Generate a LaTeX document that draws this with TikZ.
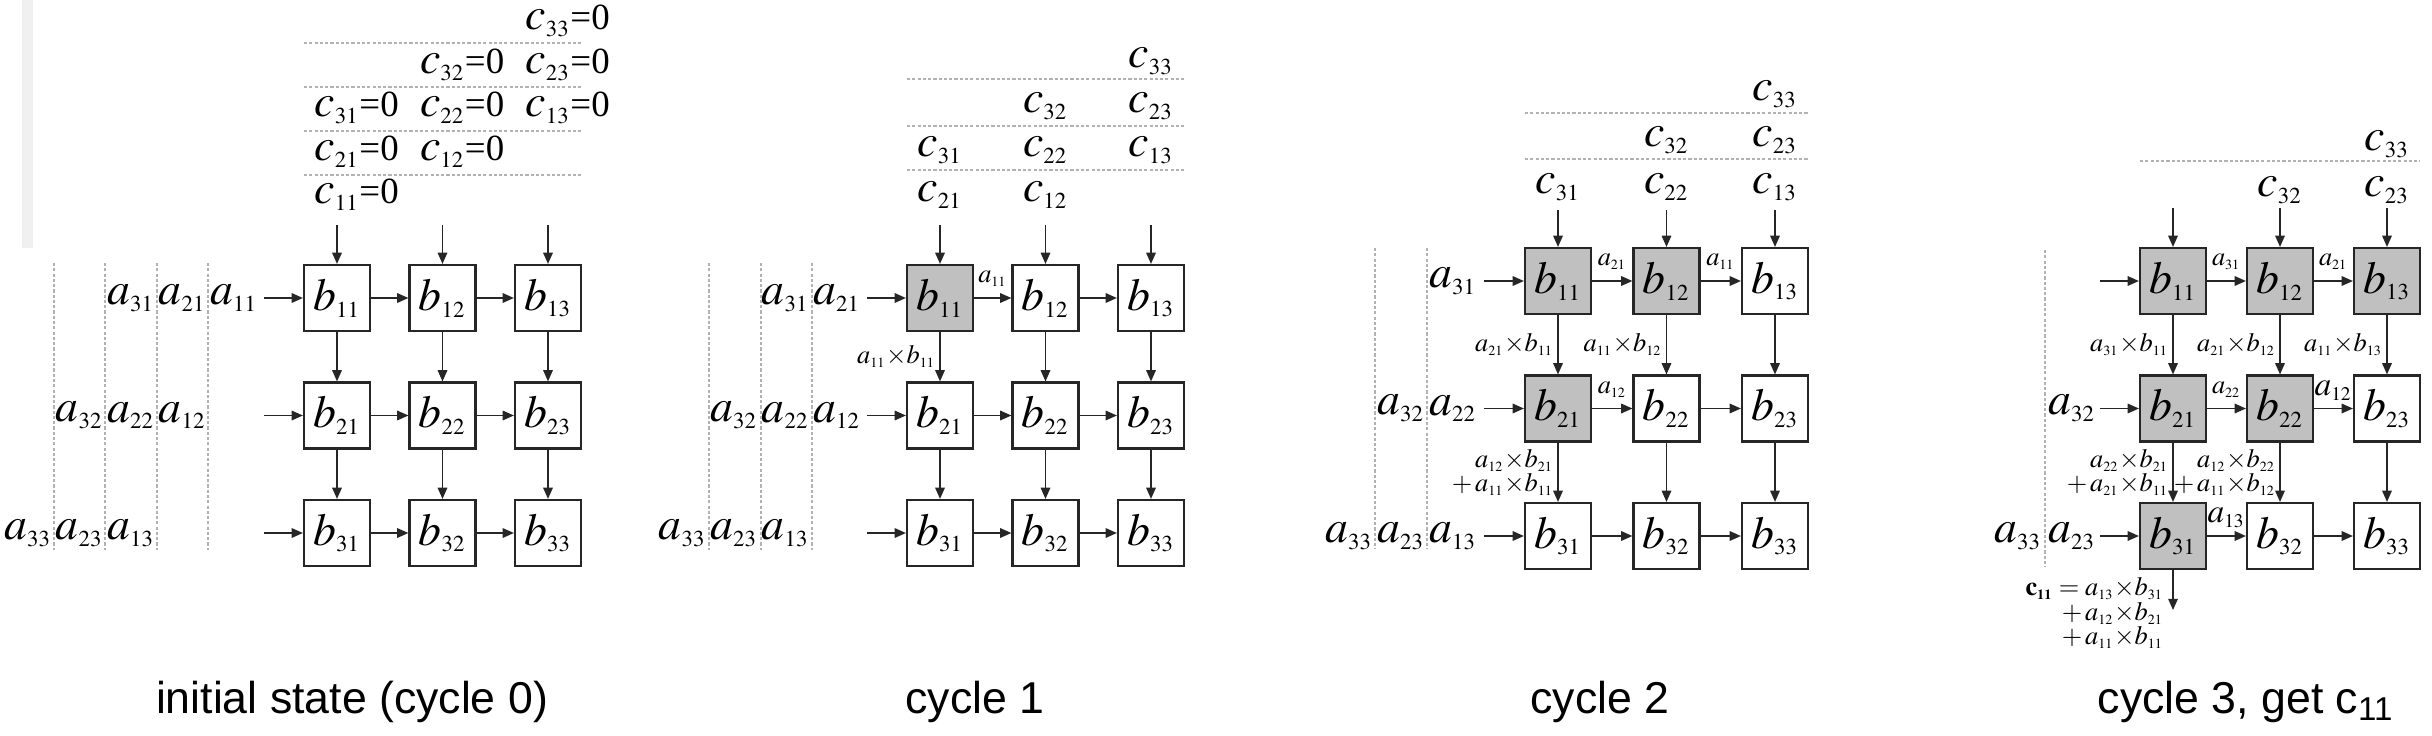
\documentclass[tikz,border=0pt]{standalone}
\usepackage{mathptmx}
\usepackage{fontspec}
\setmainfont{Liberation Serif}
\newfontfamily\capfont{Liberation Sans}
\usetikzlibrary{positioning, calc, arrows.meta}
\DeclareMathSizes{13}{13}{6.5}{5}
\DeclareMathSizes{7.5}{7.5}{4}{3}
\DeclareMathSizes{9.5}{9.5}{5.5}{4}
\definecolor{cellgray}{RGB}{192,192,192}
\newcommand{\zero}{\rlap{\fontsize{10.5}{12}\selectfont =0}}
\tikzset{
  cell/.style={rectangle, draw=black!85, line width=.6pt, fill=white, minimum size=.66cm, inner sep=0pt, font=\fontsize{13}{15}\selectfont},
  busy/.style={cell, fill=cellgray},
  sym/.style={inner sep=.5pt, font=\fontsize{13}{15}\selectfont},
  lbl/.style={inner sep=1pt, font=\fontsize{7.5}{7}\selectfont},
  midlbl/.style={inner sep=1pt, font=\fontsize{9.5}{11}\selectfont},
  feed/.style={every edge/.append style={draw=black!85, line width=.45pt, -{Triangle[length=3.2pt,width=2.7pt]}}},
  guide/.style={draw=black!30, line width=.6pt, dash pattern=on .9pt off .6pt},
  captext/.style={font=\capfont\fontsize{12.7}{15}\selectfont, anchor=base}
}

\begin{document}
\begin{tikzpicture}
  \useasboundingbox (0,0) rectangle (24.32,-7.36);
  \fill[black!6] (.22,0) rectangle (.33,-2.48);

  % initial state (cycle 0)
  \node[cell] (A11) at (3.37,-2.98) {$b_{11}$};
  \node[cell, right of=A11, xshift=.055cm] (A12) {$b_{12}$};
  \node[cell, right of=A12, xshift=.055cm] (A13) {$b_{13}$};
  \node[cell, below of=A11, yshift=-.175cm] (A21) {$b_{21}$};
  \node[cell, right of=A21, xshift=.055cm] (A22) {$b_{22}$};
  \node[cell, right of=A22, xshift=.055cm] (A23) {$b_{23}$};
  \node[cell, below of=A21, yshift=-.175cm] (A31) {$b_{31}$};
  \node[cell, right of=A31, xshift=.055cm] (A32) {$b_{32}$};
  \node[cell, right of=A32, xshift=.055cm] (A33) {$b_{33}$};

  \node[sym, above of=A11, yshift=.03cm] (Ac11) {$c_{11}$\zero};
  \node[sym, above of=Ac11, yshift=-.565cm] (Ac21) {$c_{21}$\zero};
  \node[sym, above of=Ac21, yshift=-.565cm] (Ac31) {$c_{31}$\zero};
  \node[sym, right of=Ac21, xshift=.055cm] (Ac12) {$c_{12}$\zero};
  \node[sym, above of=Ac12, yshift=-.565cm] (Ac22) {$c_{22}$\zero};
  \node[sym, above of=Ac22, yshift=-.565cm] (Ac32) {$c_{32}$\zero};
  \node[sym, right of=Ac22, xshift=.055cm] (Ac13) {$c_{13}$\zero};
  \node[sym, above of=Ac13, yshift=-.565cm] (Ac23) {$c_{23}$\zero};
  \node[sym, above of=Ac23, yshift=-.565cm] (Ac33) {$c_{33}$\zero};

  \node[sym, left of=A11, xshift=-.03cm] (Aa11) {$a_{11}$};
  \node[sym, left of=Aa11, xshift=.485cm] (Aa21) {$a_{21}$};
  \node[sym, left of=Aa21, xshift=.485cm] (Aa31) {$a_{31}$};
  \node[sym, left of=A21, xshift=-.545cm] (Aa12) {$a_{12}$};
  \node[sym, left of=Aa12, xshift=.485cm] (Aa22) {$a_{22}$};
  \node[sym, left of=Aa22, xshift=.485cm] (Aa32) {$a_{32}$};
  \node[sym, left of=A31, xshift=-1.06cm] (Aa13) {$a_{13}$};
  \node[sym, left of=Aa13, xshift=.485cm] (Aa23) {$a_{23}$};
  \node[sym, left of=Aa23, xshift=.485cm] (Aa33) {$a_{33}$};

  \coordinate[above of=A11, yshift=-.27cm] (A01);
  \coordinate[above of=A12, yshift=-.27cm] (A02);
  \coordinate[above of=A13, yshift=-.27cm] (A03);
  \coordinate[left of=A11, xshift=.27cm] (A10);
  \coordinate[left of=A21, xshift=.27cm] (A20);
  \coordinate[left of=A31, xshift=.27cm] (A30);

  \draw[guide] (3.04,-1.75) -- (5.81,-1.75) (3.04,-1.31) -- (5.81,-1.31)
    (3.04,-.87) -- (5.81,-.87) (3.04,-.43) -- (5.81,-.43);
  \draw[guide] (2.08,-2.63) -- (2.08,-5.50) (1.57,-2.63) -- (1.57,-5.50)
    (1.05,-2.63) -- (1.05,-5.50) (.54,-2.63) -- (.54,-5.50);

  \path[feed]
    (A01) edge (A11) (A02) edge (A12) (A03) edge (A13)
    (A10) edge (A11) (A20) edge (A21) (A30) edge (A31)
    (A11) edge (A12) (A12) edge (A13)
    (A21) edge (A22) (A22) edge (A23)
    (A31) edge (A32) (A32) edge (A33)
    (A11) edge (A21) (A21) edge (A31)
    (A12) edge (A22) (A22) edge (A32)
    (A13) edge (A23) (A23) edge (A33);

  % cycle 1
  \node[busy] (B11) at (9.40,-2.98) {$b_{11}$};
  \node[cell, right of=B11, xshift=.055cm] (B12) {$b_{12}$};
  \node[cell, right of=B12, xshift=.055cm] (B13) {$b_{13}$};
  \node[cell, below of=B11, yshift=-.175cm] (B21) {$b_{21}$};
  \node[cell, right of=B21, xshift=.055cm] (B22) {$b_{22}$};
  \node[cell, right of=B22, xshift=.055cm] (B23) {$b_{23}$};
  \node[cell, below of=B21, yshift=-.175cm] (B31) {$b_{31}$};
  \node[cell, right of=B31, xshift=.055cm] (B32) {$b_{32}$};
  \node[cell, right of=B32, xshift=.055cm] (B33) {$b_{33}$};

  \node[sym, above of=B11, yshift=.03cm] (Bc21) {$c_{21}$};
  \node[sym, above of=Bc21, yshift=-.555cm] (Bc31) {$c_{31}$};
  \node[sym, right of=Bc21, xshift=.055cm] (Bc12) {$c_{12}$};
  \node[sym, above of=Bc12, yshift=-.555cm] (Bc22) {$c_{22}$};
  \node[sym, above of=Bc22, yshift=-.555cm] (Bc32) {$c_{32}$};
  \node[sym, right of=Bc22, xshift=.055cm] (Bc13) {$c_{13}$};
  \node[sym, above of=Bc13, yshift=-.555cm] (Bc23) {$c_{23}$};
  \node[sym, above of=Bc23, yshift=-.555cm] (Bc33) {$c_{33}$};

  \node[sym, left of=B11, xshift=-.03cm] (Ba21) {$a_{21}$};
  \node[sym, left of=Ba21, xshift=.485cm] (Ba31) {$a_{31}$};
  \node[sym, left of=B21, xshift=-.03cm] (Ba12) {$a_{12}$};
  \node[sym, left of=Ba12, xshift=.485cm] (Ba22) {$a_{22}$};
  \node[sym, left of=Ba22, xshift=.485cm] (Ba32) {$a_{32}$};
  \node[sym, left of=B31, xshift=-.545cm] (Ba13) {$a_{13}$};
  \node[sym, left of=Ba13, xshift=.485cm] (Ba23) {$a_{23}$};
  \node[sym, left of=Ba23, xshift=.485cm] (Ba33) {$a_{33}$};

  \coordinate[above of=B11, yshift=-.27cm] (B01);
  \coordinate[above of=B12, yshift=-.27cm] (B02);
  \coordinate[above of=B13, yshift=-.27cm] (B03);
  \coordinate[left of=B11, xshift=.27cm] (B10);
  \coordinate[left of=B21, xshift=.27cm] (B20);
  \coordinate[left of=B31, xshift=.27cm] (B30);

  \draw[guide] (9.07,-1.70) -- (11.84,-1.70) (9.07,-1.26) -- (11.84,-1.26)
    (9.07,-.79) -- (11.84,-.79);
  \draw[guide] (8.12,-2.63) -- (8.12,-5.50) (7.61,-2.63) -- (7.61,-5.50)
    (7.09,-2.63) -- (7.09,-5.50);

  \path[feed]
    (B01) edge (B11) (B02) edge (B12) (B03) edge (B13)
    (B10) edge (B11) (B20) edge (B21) (B30) edge (B31)
    (B11) edge node[lbl, above=2pt] {$a_{11}$} (B12) (B12) edge (B13)
    (B21) edge (B22) (B22) edge (B23)
    (B31) edge (B32) (B32) edge (B33)
    (B11) edge node[lbl, left] {$a_{11}{\times}b_{11}$} (B21) (B21) edge (B31)
    (B12) edge (B22) (B22) edge (B32)
    (B13) edge (B23) (B23) edge (B33);

  % cycle 2
  \node[busy] (C11) at (15.58,-2.81) {$b_{11}$};
  \node[busy, right of=C11, xshift=.085cm] (C12) {$b_{12}$};
  \node[cell, right of=C12, xshift=.085cm] (C13) {$b_{13}$};
  \node[busy, below of=C11, yshift=-.275cm] (C21) {$b_{21}$};
  \node[cell, right of=C21, xshift=.085cm] (C22) {$b_{22}$};
  \node[cell, right of=C22, xshift=.085cm] (C23) {$b_{23}$};
  \node[cell, below of=C21, yshift=-.275cm] (C31) {$b_{31}$};
  \node[cell, right of=C31, xshift=.085cm] (C32) {$b_{32}$};
  \node[cell, right of=C32, xshift=.085cm] (C33) {$b_{33}$};

  \node[sym, above of=C11, yshift=-.06cm] (Cc31) {$c_{31}$};
  \node[sym, right of=Cc31, xshift=.085cm] (Cc22) {$c_{22}$};
  \node[sym, above of=Cc22, yshift=-.535cm] (Cc32) {$c_{32}$};
  \node[sym, right of=Cc22, xshift=.085cm] (Cc13) {$c_{13}$};
  \node[sym, above of=Cc13, yshift=-.535cm] (Cc23) {$c_{23}$};
  \node[sym, above of=Cc23, yshift=-.535cm] (Cc33) {$c_{33}$};

  \node[sym, left of=C11, xshift=-.05cm] (Ca31) {$a_{31}$};
  \node[sym, left of=C21, xshift=-.05cm] (Ca22) {$a_{22}$};
  \node[sym, left of=Ca22, xshift=.48cm] (Ca32) {$a_{32}$};
  \node[sym, left of=C31, xshift=-.05cm] (Ca13) {$a_{13}$};
  \node[sym, left of=Ca13, xshift=.48cm] (Ca23) {$a_{23}$};
  \node[sym, left of=Ca23, xshift=.48cm] (Ca33) {$a_{33}$};

  \coordinate[above of=C11, yshift=-.29cm] (C01);
  \coordinate[above of=C12, yshift=-.29cm] (C02);
  \coordinate[above of=C13, yshift=-.29cm] (C03);
  \coordinate[left of=C11, xshift=.26cm] (C10);
  \coordinate[left of=C21, xshift=.26cm] (C20);
  \coordinate[left of=C31, xshift=.26cm] (C30);

  \draw[guide] (15.25,-1.59) -- (18.09,-1.59) (15.25,-1.13) -- (18.09,-1.13);
  \draw[guide] (14.27,-2.48) -- (14.27,-5.49) (13.75,-2.48) -- (13.75,-5.49);

  \path[feed]
    (C01) edge (C11) (C02) edge (C12) (C03) edge (C13)
    (C10) edge (C11) (C20) edge (C21) (C30) edge (C31)
    (C11) edge node[lbl, above=2pt] {$a_{21}$} (C12)
    (C12) edge node[lbl, above=2pt] {$a_{11}$} (C13)
    (C21) edge node[lbl, above=2pt] {$a_{12}$} (C22) (C22) edge (C23)
    (C31) edge (C32) (C32) edge (C33)
    (C11) edge node[lbl, left] {$a_{21}{\times}b_{11}$} (C21)
    (C21) edge node[lbl, left, align=right] {$a_{12}{\times}b_{21}$\\$+\,a_{11}{\times}b_{11}$} (C31)
    (C12) edge node[lbl, left] {$a_{11}{\times}b_{12}$} (C22) (C22) edge (C32)
    (C13) edge (C23) (C23) edge (C33);

  % cycle 3
  \node[busy] (D11) at (21.73,-2.81) {$b_{11}$};
  \node[busy, right of=D11, xshift=.07cm] (D12) {$b_{12}$};
  \node[busy, right of=D12, xshift=.07cm] (D13) {$b_{13}$};
  \node[busy, below of=D11, yshift=-.275cm] (D21) {$b_{21}$};
  \node[busy, right of=D21, xshift=.07cm] (D22) {$b_{22}$};
  \node[cell, right of=D22, xshift=.07cm] (D23) {$b_{23}$};
  \node[busy, below of=D21, yshift=-.275cm] (D31) {$b_{31}$};
  \node[cell, right of=D31, xshift=.07cm] (D32) {$b_{32}$};
  \node[cell, right of=D32, xshift=.07cm] (D33) {$b_{33}$};

  \node[sym, above of=D12, yshift=-.09cm] (Dc32) {$c_{32}$};
  \node[sym, right of=Dc32, xshift=.07cm] (Dc23) {$c_{23}$};
  \node[sym, above of=Dc23, yshift=-.54cm] (Dc33) {$c_{33}$};

  \node[sym, left of=D21, xshift=-.01cm] (Da32) {$a_{32}$};
  \node[sym, left of=D31, xshift=-.01cm] (Da23) {$a_{23}$};
  \node[sym, left of=Da23, xshift=.46cm] (Da33) {$a_{33}$};

  \coordinate[above of=D11, yshift=-.27cm] (D01);
  \coordinate[above of=D12, yshift=-.27cm] (D02);
  \coordinate[above of=D13, yshift=-.27cm] (D03);
  \coordinate[left of=D11, xshift=.27cm] (D10);
  \coordinate[left of=D21, xshift=.27cm] (D20);
  \coordinate[left of=D31, xshift=.27cm] (D30);
  \coordinate[below of=D31, yshift=.26cm] (D41);

  \draw[guide] (21.40,-1.61) -- (24.20,-1.61);
  \draw[guide] (20.45,-2.50) -- (20.45,-5.67);

  \path[feed]
    (D01) edge (D11) (D02) edge (D12) (D03) edge (D13)
    (D10) edge (D11) (D20) edge (D21) (D30) edge (D31)
    (D11) edge node[lbl, above=2pt] {$a_{31}$} (D12)
    (D12) edge node[lbl, above=2pt] {$a_{21}$} (D13)
    (D21) edge node[lbl, above=2pt] {$a_{22}$} (D22)
    (D22) edge node[midlbl, above=1pt] {$a_{12}$} (D23)
    (D31) edge node[midlbl, above=1pt] {$a_{13}$} (D32) (D32) edge (D33)
    (D11) edge node[lbl, left] {$a_{31}{\times}b_{11}$} (D21)
    (D12) edge node[lbl, left] {$a_{21}{\times}b_{12}$} (D22)
    (D13) edge node[lbl, left] {$a_{11}{\times}b_{13}$} (D23)
    (D21) edge node[lbl, left, align=right] {$a_{22}{\times}b_{21}$\\$+\,a_{21}{\times}b_{11}$} (D31)
    (D22) edge node[lbl, left, align=right] {$a_{12}{\times}b_{22}$\\$+\,a_{11}{\times}b_{12}$} (D32)
    (D23) edge (D33)
    (D31) edge node[lbl, pos=0, anchor=north east, align=right, xshift=-.5mm, yshift=-.3mm]
      {$\mathbf{c_{11}}=a_{13}{\times}b_{31}$\\$+\,a_{12}{\times}b_{21}$\\$+\,a_{11}{\times}b_{11}$} (D41);

  \node[captext] (capA) at (3.52,-7.13) {initial state (cycle 0)};
  \node[captext] (capB) at (9.75,-7.13) {cycle 1};
  \node[captext] (capC) at (16.00,-7.13) {cycle 2};
  \node[captext] (capD) at (22.46,-7.13) {cycle 3, get c\textsubscript{11}};
\end{tikzpicture}
\end{document}
